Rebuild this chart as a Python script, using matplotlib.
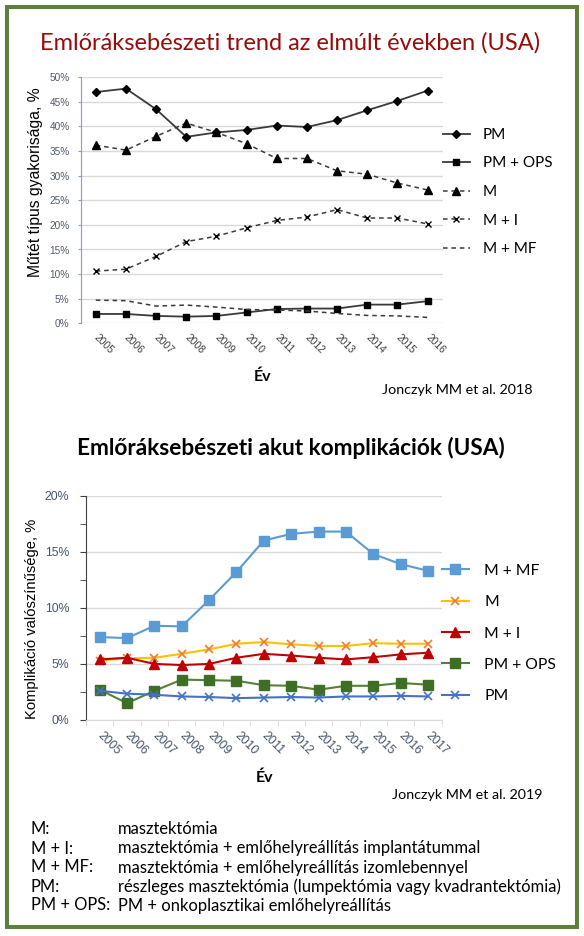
import numpy as np
import matplotlib
matplotlib.use('Agg')
import matplotlib.pyplot as plt
from matplotlib.patches import Rectangle
from matplotlib.ticker import FuncFormatter, MultipleLocator

# --- data: műtéttípusok gyakorisága (Jonczyk 2018)
years_trend = list(range(2005, 2017))
pm = [47.0, 47.7, 43.5, 37.9, 38.8, 39.3, 40.2, 39.9, 41.3, 43.3, 45.2, 47.3]
pm_ops = [1.9, 1.9, 1.5, 1.35, 1.5, 2.2, 2.9, 3.0, 3.0, 3.8, 3.8, 4.5]
m = [36.2, 35.2, 38.0, 40.7, 38.8, 36.5, 33.5, 33.5, 31.0, 30.3, 28.5, 27.1]
m_i = [10.6, 11.0, 13.6, 16.6, 17.7, 19.4, 20.9, 21.6, 23.1, 21.4, 21.4, 20.2]
m_mf = [4.7, 4.6, 3.5, 3.7, 3.3, 2.8, 2.7, 2.5, 2.0, 1.6, 1.5, 1.2]

# --- data: akut komplikációk (Jonczyk 2019)
years_comp = list(range(2005, 2018))
c_m_mf = [7.4, 7.3, 8.4, 8.35, 10.7, 13.2, 16.0, 16.6, 16.8, 16.8, 14.8, 13.9, 13.3]
c_m = [5.3, 5.5, 5.55, 5.9, 6.3, 6.8, 6.95, 6.75, 6.6, 6.6, 6.85, 6.8, 6.8]
c_m_i = [5.4, 5.55, 5.0, 4.9, 5.0, 5.55, 5.9, 5.75, 5.55, 5.4, 5.6, 5.85, 6.0]
c_pm_ops = [2.7, 1.5, 2.6, 3.6, 3.55, 3.5, 3.1, 3.05, 2.7, 3.05, 3.05, 3.3, 3.15]
c_pm = [2.6, 2.35, 2.25, 2.1, 2.05, 1.95, 2.0, 2.05, 2.0, 2.1, 2.1, 2.15, 2.1]

abbrev = ['M:', 'M + I:', 'M + MF:', 'PM:', 'PM + OPS:']
abbrev_text = ['masztektómia',
               'masztektómia + emlőhelyreállítás implantátummal',
               'masztektómia + emlőhelyreállítás izomlebennyel',
               'részleges masztektómia (lumpektómia vagy kvadrantektómia)',
               'PM + onkoplasztikai emlőhelyreállítás']

W, H = 584, 936
CAL = ['Lato', 'DejaVu Sans']
ARI = ['Liberation Sans', 'DejaVu Sans']

fig = plt.figure(figsize=(W / 100, H / 100), dpi=100)
fig.patch.set_facecolor('white')


def fx(x):
    return x / W


def fy(y):
    return 1 - y / H


pct = FuncFormatter(lambda v, p: '%d%%' % v)

# ---------------- top chart
ax1 = fig.add_axes([fx(80.7), fy(323.3), fx(442.7) - fx(80.7), (323.3 - 77.3) / H])
lc = '#3a3a3a'
ax1.plot(years_trend, pm, color=lc, lw=1.3, marker='D', ms=4.5, mfc='black', mec='black', label='PM')
ax1.plot(years_trend, pm_ops, color=lc, lw=1.3, marker='s', ms=4.5, mfc='black', mec='black', label='PM + OPS')
ax1.plot(years_trend, m, color=lc, lw=1.1, ls=(0, (3, 2.5)), marker='^', ms=5.5, mfc='black', mec='black', label='M')
ax1.plot(years_trend, m_i, color=lc, lw=1.1, ls=(0, (3, 2.5)), marker='x', ms=5, mec='black', mew=1, label='M + I')
ax1.plot(years_trend, m_mf, color=lc, lw=1.1, ls=(0, (3, 2.5)), label='M + MF')
ax1.set_xlim(2004.5, 2016.5)
ax1.set_ylim(0, 50)
ax1.yaxis.set_major_locator(MultipleLocator(5))
ax1.yaxis.set_major_formatter(pct)
ax1.grid(axis='y', color='#d9d9d9', lw=1)
ax1.set_axisbelow(True)
for s in ['top', 'right', 'bottom']:
    ax1.spines[s].set_visible(False)
ax1.spines['left'].set_color('#8a9cc2')
ax1.tick_params(axis='y', length=2, color='#8a9cc2', pad=6, labelsize=7.2, labelcolor='#505a6a')
ax1.set_xticks(years_trend)
ax1.set_xticklabels([str(y) for y in years_trend], family=ARI, fontsize=7.4, color='#404040',
                    rotation=-45, ha='left', va='center', rotation_mode='anchor')
ax1.tick_params(axis='x', length=0, pad=9)
for t in ax1.get_yticklabels():
    t.set_family(ARI)
ax1.legend(loc='center left', bbox_to_anchor=(fx(443), fy(192)), bbox_transform=fig.transFigure,
           frameon=False, prop={'family': CAL, 'size': 11}, handlelength=1.75, handletextpad=0.85,
           labelspacing=0.95, borderpad=0, borderaxespad=0)

fig.text(fx(290), fy(43), 'Emlőráksebészeti trend az elmúlt években (USA)', family=CAL, fontsize=17,
         color='#990a0a', ha='center', va='center')
fig.text(fx(36), fy(182), 'Műtét típus gyakorisága, %', family=ARI, fontsize=11.3, rotation=90,
         ha='center', va='center', color='black')
fig.text(fx(263), fy(377), 'Év', family=CAL, fontsize=11.5, fontweight='bold', ha='center', va='center')
fig.text(fx(533), fy(390), 'Jonczyk MM et al. 2018', family=CAL, fontsize=10.3, ha='right', va='center')

# ---------------- bottom chart
ax2 = fig.add_axes([fx(86), fy(720), fx(441.7) - fx(86), (720 - 495.7) / H])
ax2.plot(years_comp, c_m_mf, color='#5b9bd5', lw=1.5, marker='s', ms=6.5, mfc='#5b9bd5', mec='#5b9bd5', label='M + MF')
ax2.plot(years_comp, c_m, color='#ffc000', lw=1.5, marker='x', ms=5.5, mec='#ed7d31', mew=1.2, label='M')
ax2.plot(years_comp, c_m_i, color='#c00000', lw=1.5, marker='^', ms=6.5, mfc='#c00000', mec='#c00000', label='M + I')
ax2.plot(years_comp, c_pm_ops, color='#548235', lw=1.5, marker='s', ms=6.5, mfc='#3f6e25', mec='#3f6e25', label='PM + OPS')
ax2.plot(years_comp, c_pm, color='#4472c4', lw=1.5, marker='x', ms=5.5, mec='#4472c4', mew=1.2, label='PM')
ax2.set_xlim(2004.5, 2017.5)
ax2.set_ylim(0, 20)
ax2.yaxis.set_major_locator(MultipleLocator(5))
ax2.yaxis.set_minor_locator(MultipleLocator(2.5))
ax2.yaxis.set_major_formatter(pct)
ax2.grid(axis='y', color='#d9d9d9', lw=1)
ax2.set_axisbelow(True)
for s in ['top', 'right']:
    ax2.spines[s].set_visible(False)
ax2.spines['left'].set_color('#404040')
ax2.spines['bottom'].set_color('#d9d9d9')
ax2.tick_params(axis='y', which='both', length=4, color='#404040', pad=8, labelsize=8.8, labelcolor='#44546a')
ax2.set_xticks(years_comp)
ax2.set_xticks(np.arange(2004.5, 2018, 1), minor=True)
ax2.set_xticklabels([str(y) for y in years_comp], family=ARI, fontsize=8.8, color='#44546a',
                    rotation=-45, ha='left', va='center', rotation_mode='anchor')
ax2.tick_params(axis='x', which='major', length=0, pad=10)
ax2.tick_params(axis='x', which='minor', length=4, color='#d9d9d9')
for t in ax2.get_yticklabels():
    t.set_family(ARI)
ax2.legend(loc='center left', bbox_to_anchor=(fx(442), fy(633.5)), bbox_transform=fig.transFigure,
           frameon=False, prop={'family': CAL, 'size': 11.3}, handlelength=1.7, handletextpad=1.0,
           labelspacing=1.1, borderpad=0, borderaxespad=0)

fig.text(fx(291), fy(448), 'Emlőráksebészeti akut komplikációk (USA)', family=CAL, fontsize=16.3,
         fontweight='bold', color='black', ha='center', va='center')
fig.text(fx(32), fy(619), 'Komplikáció valószínűsége, %', family=ARI, fontsize=10.6, rotation=90,
         ha='center', va='center', color='black')
fig.text(fx(265), fy(778), 'Év', family=CAL, fontsize=11.5, fontweight='bold', ha='center', va='center')
fig.text(fx(543), fy(795), 'Jonczyk MM et al. 2019', family=CAL, fontsize=10.3, ha='right', va='center')

# ---------------- rövidítések
for i, (a, t) in enumerate(zip(abbrev, abbrev_text)):
    y = 829.5 + i * 19
    fig.text(fx(31), fy(y), a, family=CAL, fontsize=11.9, ha='left', va='center')
    fig.text(fx(118), fy(y), t, family=CAL, fontsize=11.9, ha='left', va='center')

# zöld keret
fig.add_artist(Rectangle((fx(7), fy(927)), fx(577) - fx(7), (927 - 7) / H, fill=False,
                         edgecolor='#5e7f3b', linewidth=2.9, transform=fig.transFigure))

fig.savefig('out.png', dpi=100, facecolor='white')
